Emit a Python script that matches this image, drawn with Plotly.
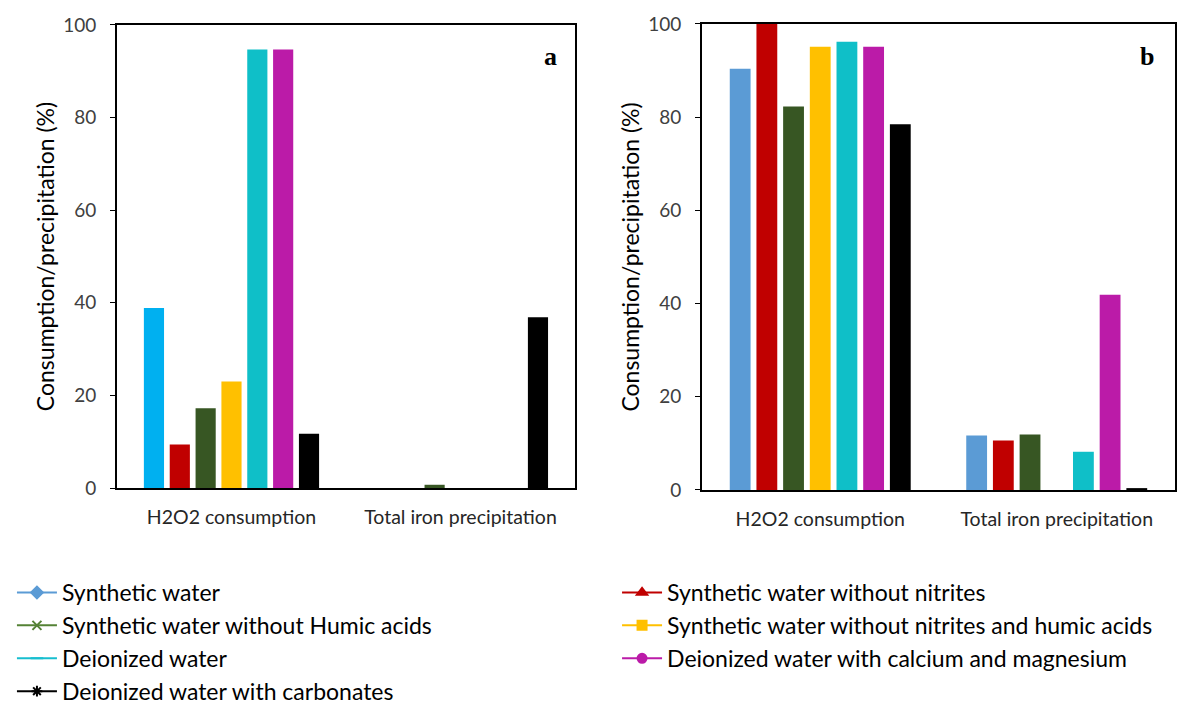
import plotly.graph_objects as go

categories = ["H2O2 consumption", "Total iron precipitation"]
series_names = [
    "Synthetic water",
    "Synthetic water without nitrites",
    "Synthetic water without Humic acids",
    "Synthetic water without nitrites and humic acids",
    "Deionized water",
    "Deionized water with calcium and magnesium",
    "Deionized water with carbonates",
]
# panel a values [H2O2 consumption, Total iron precipitation]
values_a = [
    [38.9, 0.0],
    [9.4, 0.0],
    [17.2, 0.7],
    [23.0, 0.0],
    [94.7, 0.0],
    [94.7, 0.0],
    [11.7, 36.9],
]
# panel b values
values_b = [
    [90.4, 11.7],
    [100.0, 10.6],
    [82.3, 11.9],
    [95.1, 0.0],
    [96.2, 8.2],
    [95.1, 41.9],
    [78.5, 0.4],
]
colors_a = ["#00B0F0", "#C00000", "#375623", "#FFC000", "#0FBFC8", "#BB1BA8", "#000000"]
colors_b = ["#5B9BD5", "#C00000", "#375623", "#FFC000", "#0FBFC8", "#BB1BA8", "#000000"]
legend_colors = ["#5B9BD5", "#C00000", "#548235", "#FFC000", "#17BECF", "#BB1BA8", "#000000"]
symbols = ["diamond", "triangle-up", "x-thin-open", "square", "line-ew-open", "circle", "asterisk-open"]
legend_column = ["legend", "legend2", "legend", "legend2", "legend", "legend2", "legend"]

fig = go.Figure()
for i, name in enumerate(series_names):
    fig.add_trace(go.Bar(x=categories, y=values_a[i], name=name, marker_color=colors_a[i],
                         marker_line_width=0, showlegend=False, xaxis="x", yaxis="y"))
for i, name in enumerate(series_names):
    fig.add_trace(go.Bar(x=categories, y=values_b[i], name=name, marker_color=colors_b[i],
                         marker_line_width=0, showlegend=False, xaxis="x2", yaxis="y2"))
for i, name in enumerate(series_names):
    fig.add_trace(go.Scatter(x=[None], y=[None], name=name, mode="lines+markers",
                             legend=legend_column[i],
                             line=dict(color=legend_colors[i], width=2),
                             marker=dict(symbol=symbols[i], size=9, color=legend_colors[i],
                                         line=dict(color=legend_colors[i], width=2)),
                             xaxis="x", yaxis="y"))

axis_common_y = dict(range=[0, 100], dtick=20, showline=True, linecolor="black", linewidth=2,
                     mirror=True, ticks="outside", ticklen=5, tickcolor="black", showgrid=False,
                     zeroline=False, ticklabelstandoff=10,
                     tickfont=dict(size=19, color="#404040", family="Lato"),
                     title=dict(text="Consumption/precipitation (%)",
                                font=dict(size=23, color="black", family="Lato"), standoff=2))
axis_common_x = dict(showline=True, linecolor="black", linewidth=2, mirror=True, ticks="",
                     showgrid=False, ticklabelstandoff=11,
                     tickfont=dict(size=19.5, color="#262626", family="Lato"))

legend_common = dict(orientation="v", xanchor="left", y=0.1889, yanchor="top",
                     font=dict(size=23, color="black", family="Lato"), itemwidth=40,
                     traceorder="normal", tracegroupgap=0, bgcolor="rgba(0,0,0,0)")

fig.update_layout(
    width=1183, height=704,
    margin=dict(l=0, r=0, t=0, b=0, autoexpand=False),
    paper_bgcolor="white", plot_bgcolor="white",
    barmode="group", bargap=0.21, bargroupgap=0.22,
    xaxis=dict(domain=[0.0989, 0.486], anchor="y", **axis_common_x),
    yaxis=dict(domain=[0.3068, 0.9645], anchor="x", **axis_common_y),
    xaxis2=dict(domain=[0.5934, 0.9932], anchor="y2", **axis_common_x),
    yaxis2=dict(domain=[0.304, 0.966], anchor="x2", **axis_common_y),
    legend=dict(x=0.0101, **legend_common),
    legend2=dict(x=0.5216, **legend_common),
    annotations=[
        dict(text="<b>a</b>", x=550 / 1183, y=1 - 57 / 704, xref="paper", yref="paper",
             xanchor="center", yanchor="middle",
             showarrow=False, font=dict(size=26, family="Liberation Serif", color="black")),
        dict(text="<b>b</b>", x=1147 / 1183, y=1 - 57 / 704, xref="paper", yref="paper",
             xanchor="center", yanchor="middle",
             showarrow=False, font=dict(size=26, family="Liberation Serif", color="black")),
    ],
)

fig.write_html("out.html", config={"displayModeBar": False},
               post_script="document.body.style.margin='0';")
